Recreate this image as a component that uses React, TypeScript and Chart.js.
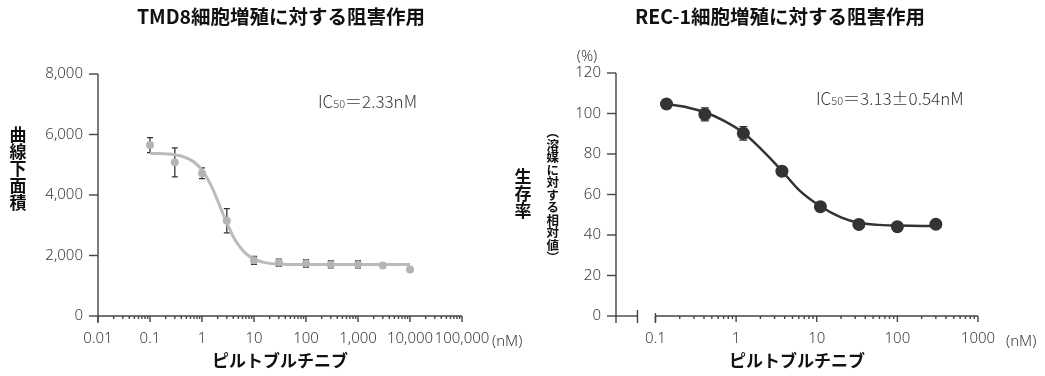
import React, { useEffect, useRef } from 'react';
import { Chart, registerables } from 'chart.js';

Chart.register(...registerables);

// ---------- TMD8 (left) ----------
const tmd8Conc = [0.1, 0.3, 1, 3, 10, 30, 100, 300, 1000, 3000, 10000];
const tmd8Auc = [5650, 5080, 4720, 3150, 1840, 1760, 1740, 1710, 1710, 1670, 1540];
const tmd8Err = [250, 480, 180, 400, 130, 120, 120, 120, 120, 0, 0];
const tmd8FitConc = [0.1, 0.3, 0.5, 0.7, 1, 1.5, 2, 2.33, 3, 4, 5, 7, 10, 15, 20, 30, 50, 100, 1000, 10000];
const tmd8FitAuc = [5380, 5330, 5230, 5090, 4820, 4310, 3820, 3530, 3080, 2620, 2350, 2060, 1880, 1780, 1740, 1715, 1705, 1700, 1700, 1700];
const tmd8XTicks = [0.01, 0.1, 1, 10, 100, 1000, 10000, 100000];
const tmd8XLabels = ['0.01', '0.1', '1', '10', '100', '1,000', '10,000', '100,000'];
const tmd8YTicks = [0, 2000, 4000, 6000, 8000];
const tmd8YLabels = ['0', '2,000', '4,000', '6,000', '8,000'];

// ---------- REC-1 (right) ----------
const rec1Conc = [0.137, 0.41, 1.23, 3.7, 11.1, 33.3, 100, 300];
const rec1Surv = [104.7, 99.6, 90.2, 71.5, 54.0, 45.2, 44.1, 45.3];
const rec1Err = [0, 3.2, 3.3, 0, 0, 0, 0, 0];
const rec1FitConc = [0.137, 0.25, 0.41, 0.7, 1.23, 2, 3.7, 6, 11.1, 20, 33.3, 60, 100, 300];
const rec1FitSurv = [104.7, 103.0, 100.6, 96.5, 90.5, 82.8, 71.7, 62.3, 54.2, 48.7, 46.0, 45.0, 44.7, 44.4];
const rec1XTicks = [0.1, 1, 10, 100, 1000];
const rec1XLabels = ['0.1', '1', '10', '100', '1000'];
const rec1YTicks = [0, 20, 40, 60, 80, 100, 120];
const rec1YLabels = ['0', '20', '40', '60', '80', '100', '120'];

const CJK = '"Noto Sans CJK JP", "Noto Sans", sans-serif';
const NUM = '"Noto Sans", "Noto Sans CJK JP", sans-serif';
const AXIS = '#444444';
const TXT = '#3a3a3a';

const sameLog = (a: number, b: number) => Math.abs(Math.log10(a) - Math.log10(b)) < 1e-6;
const logLabel = (vals: number[], labels: string[]) => (v: any) => {
  const i = vals.findIndex((t) => sameLog(t, Number(v)));
  return i >= 0 ? labels[i] : '';
};
const linLabel = (vals: number[], labels: string[]) => (v: any) => {
  const i = vals.findIndex((t) => Math.abs(t - Number(v)) < 1e-9);
  return i >= 0 ? labels[i] : '';
};

function makeAxesPlugin(o: { firstDecade: number; breakAt?: number }) {
  return {
    id: 'customAxes',
    afterDraw(chart: any) {
      const { ctx, chartArea: a } = chart;
      const xs = chart.scales.x;
      const ys = chart.scales.y;
      const line = (x1: number, y1: number, x2: number, y2: number) => {
        ctx.beginPath();
        ctx.moveTo(x1, y1);
        ctx.lineTo(x2, y2);
        ctx.stroke();
      };
      ctx.save();
      ctx.strokeStyle = AXIS;
      ctx.lineWidth = 1.4;
      // y axis
      line(a.left, a.top, a.left, a.bottom + 7);
      ys.ticks.forEach((t: any) => {
        const y = ys.getPixelForValue(t.value);
        line(a.left - 9, y, a.left, y);
      });
      // x axis
      if (o.breakAt) {
        const p = xs.getPixelForValue(o.breakAt);
        const q = p - 18;
        line(a.left, a.bottom, q, a.bottom);
        line(q, a.bottom - 6, q, a.bottom + 7);
        line(p, a.bottom - 3, p, a.bottom + 7);
        line(p, a.bottom, a.right, a.bottom);
      } else {
        line(a.left, a.bottom, a.right, a.bottom);
      }
      for (let e = Math.round(Math.log10(o.firstDecade)); Math.pow(10, e) <= xs.max * 1.0001; e++) {
        const base = Math.pow(10, e);
        for (let k = 1; k <= 9; k++) {
          const v = k * base;
          if (v > xs.max * 1.0001) break;
          const x = xs.getPixelForValue(v);
          line(x, a.bottom, x, a.bottom + (k === 1 ? 6 : 3));
        }
      }
      ctx.restore();
    },
  };
}

const errorBarPlugin = {
  id: 'errorBars',
  beforeDatasetsDraw(chart: any) {
    const { ctx } = chart;
    const xs = chart.scales.x;
    const ys = chart.scales.y;
    chart.data.datasets.forEach((ds: any) => {
      if (!ds.errors) return;
      ctx.save();
      ctx.strokeStyle = ds.errorColor;
      ctx.lineWidth = 1.3;
      ds.data.forEach((p: any, i: number) => {
        const e = ds.errors[i];
        if (!e) return;
        const x = xs.getPixelForValue(p.x);
        const y1 = ys.getPixelForValue(p.y + e);
        const y2 = ys.getPixelForValue(p.y - e);
        const c = ds.capHalf;
        ctx.beginPath();
        ctx.moveTo(x, y1);
        ctx.lineTo(x, y2);
        ctx.moveTo(x - c, y1);
        ctx.lineTo(x + c, y1);
        ctx.moveTo(x - c, y2);
        ctx.lineTo(x + c, y2);
        ctx.stroke();
      });
      ctx.restore();
    });
  },
};

const tickFont = { family: NUM, size: 15, weight: '300' as any };

function buildConfig(p: {
  conc: number[]; vals: number[]; errs: number[]; fitConc: number[]; fitVals: number[];
  pointColor: string; pointRadius: number; lineColor: string; lineWidth: number; capHalf: number;
  xMin: number; xMax: number; xTicks: number[]; xLabels: string[];
  yMax: number; yTicks: number[]; yLabels: string[]; yStep: number;
  yWidth: number; padTop: number; padRight: number; firstDecade: number; breakAt?: number;
}) {
  return {
    type: 'scatter' as const,
    data: {
      datasets: [
        {
          label: 'points',
          data: p.conc.map((x, i) => ({ x, y: p.vals[i] })),
          backgroundColor: p.pointColor,
          borderColor: p.pointColor,
          pointRadius: p.pointRadius,
          pointBorderWidth: 0,
          showLine: false,
          errors: p.errs,
          errorColor: '#333',
          capHalf: p.capHalf,
        } as any,
        {
          type: 'line' as const,
          label: 'fit',
          data: p.fitConc.map((x, i) => ({ x, y: p.fitVals[i] })),
          borderColor: p.lineColor,
          borderWidth: p.lineWidth,
          pointRadius: 0,
          fill: false,
          cubicInterpolationMode: 'monotone' as const,
        },
      ],
    },
    options: {
      animation: false as const,
      responsive: false,
      events: [],
      layout: { padding: { left: 0, top: p.padTop, right: p.padRight, bottom: 0 } },
      plugins: { legend: { display: false }, tooltip: { enabled: false }, title: { display: false } },
      scales: {
        x: {
          type: 'logarithmic' as const,
          min: p.xMin,
          max: p.xMax,
          grid: { display: false, drawTicks: false },
          border: { display: false },
          ticks: {
            autoSkip: false,
            maxRotation: 0,
            padding: 14,
            color: TXT,
            font: tickFont,
            callback: logLabel(p.xTicks, p.xLabels),
          },
          afterFit: (s: any) => { s.height = 60; },
        },
        y: {
          type: 'linear' as const,
          min: 0,
          max: p.yMax,
          grid: { display: false, drawTicks: false },
          border: { display: false },
          ticks: {
            stepSize: p.yStep,
            padding: 15,
            color: TXT,
            font: tickFont,
            callback: linLabel(p.yTicks, p.yLabels),
          },
          afterFit: (s: any) => { s.width = p.yWidth; },
        },
      },
    },
    plugins: [makeAxesPlugin({ firstDecade: p.firstDecade, breakAt: p.breakAt }), errorBarPlugin],
  };
}

function ChartCanvas({ cfg, left, width }: { cfg: any; left: number; width: number }) {
  const ref = useRef<HTMLCanvasElement | null>(null);
  useEffect(() => {
    if (!ref.current) return;
    const chart = new Chart(ref.current, cfg);
    return () => chart.destroy();
  }, []);
  return (
    <canvas
      ref={ref}
      width={width}
      height={376}
      style={{ position: 'absolute', left, top: 0, width, height: 376, display: 'block' }}
    />
  );
}

const T = ({ x, y, children, style, anchor = 'center' }: any) => (
  <div
    style={{
      position: 'absolute',
      left: x,
      top: y,
      transform: anchor === 'left' ? 'translate(0,-50%)' : 'translate(-50%,-50%)',
      whiteSpace: 'nowrap',
      lineHeight: 1,
      color: TXT,
      ...style,
    }}
  >
    {children}
  </div>
);

export default function App() {
  const leftCfg = buildConfig({
    conc: tmd8Conc, vals: tmd8Auc, errs: tmd8Err, fitConc: tmd8FitConc, fitVals: tmd8FitAuc,
    pointColor: '#b4b4b4', pointRadius: 4, lineColor: '#bbbbbb', lineWidth: 3, capHalf: 3,
    xMin: 0.01, xMax: 100000, xTicks: tmd8XTicks, xLabels: tmd8XLabels,
    yMax: 8000, yTicks: tmd8YTicks, yLabels: tmd8YLabels, yStep: 2000,
    yWidth: 98, padTop: 74, padRight: 58, firstDecade: 0.01,
  });
  const rightCfg = buildConfig({
    conc: rec1Conc, vals: rec1Surv, errs: rec1Err, fitConc: rec1FitConc, fitVals: rec1FitSurv,
    pointColor: '#333333', pointRadius: 6.5, lineColor: '#333333', lineWidth: 2.5, capHalf: 4,
    xMin: 0.0324, xMax: 1000, xTicks: rec1XTicks, xLabels: rec1XLabels,
    yMax: 120, yTicks: rec1YTicks, yLabels: rec1YLabels, yStep: 20,
    yWidth: 96, padTop: 73, padRight: 67, firstDecade: 0.1, breakAt: 0.1,
  });
  const title = { fontFamily: CJK, fontWeight: 700, fontSize: 19.5, color: '#111' };
  const axisTitle = { fontFamily: CJK, fontWeight: 700, fontSize: 17, color: '#111' };
  const note = { fontFamily: CJK, fontWeight: 300, fontSize: 17, color: TXT };
  const unit = { fontFamily: NUM, fontWeight: 300, fontSize: 15, color: TXT };
  const sub = { fontSize: 11 };
  return (
    <div style={{ position: 'fixed', left: 0, top: 0, width: 1045, height: 376, background: '#fff', overflow: 'hidden' }}>
      <ChartCanvas cfg={leftCfg} left={0} width={520} />
      <ChartCanvas cfg={rightCfg} left={520} width={525} />

      <T x={281} y={16} style={title}>TMD8細胞増殖に対する阻害作用</T>
      <T x={780} y={16} style={title}>REC-1細胞増殖に対する阻害作用</T>

      <T x={18} y={169} style={{ ...axisTitle, writingMode: 'vertical-rl' }}>曲線下面積</T>
      <T x={280} y={359} style={axisTitle}>ピルトブルチニブ</T>
      <T x={492} y={340} anchor="left" style={unit}>(nM)</T>
      <T x={318} y={100} anchor="left" style={note}>
        IC<span style={sub}>50</span>＝2.33nM
      </T>

      <T x={587} y={55} style={unit}>(%)</T>
      <T x={523} y={194} style={{ ...axisTitle, writingMode: 'vertical-rl' }}>生存率</T>
      <T x={552} y={195} style={{ ...axisTitle, fontSize: 12.5, writingMode: 'vertical-rl' }}>（溶媒に対する相対値）</T>
      <T x={797} y={359} style={axisTitle}>ピルトブルチニブ</T>
      <T x={1006} y={340} anchor="left" style={unit}>(nM)</T>
      <T x={816} y={97} anchor="left" style={note}>
        IC<span style={sub}>50</span>＝3.13±0.54nM
      </T>
    </div>
  );
}
